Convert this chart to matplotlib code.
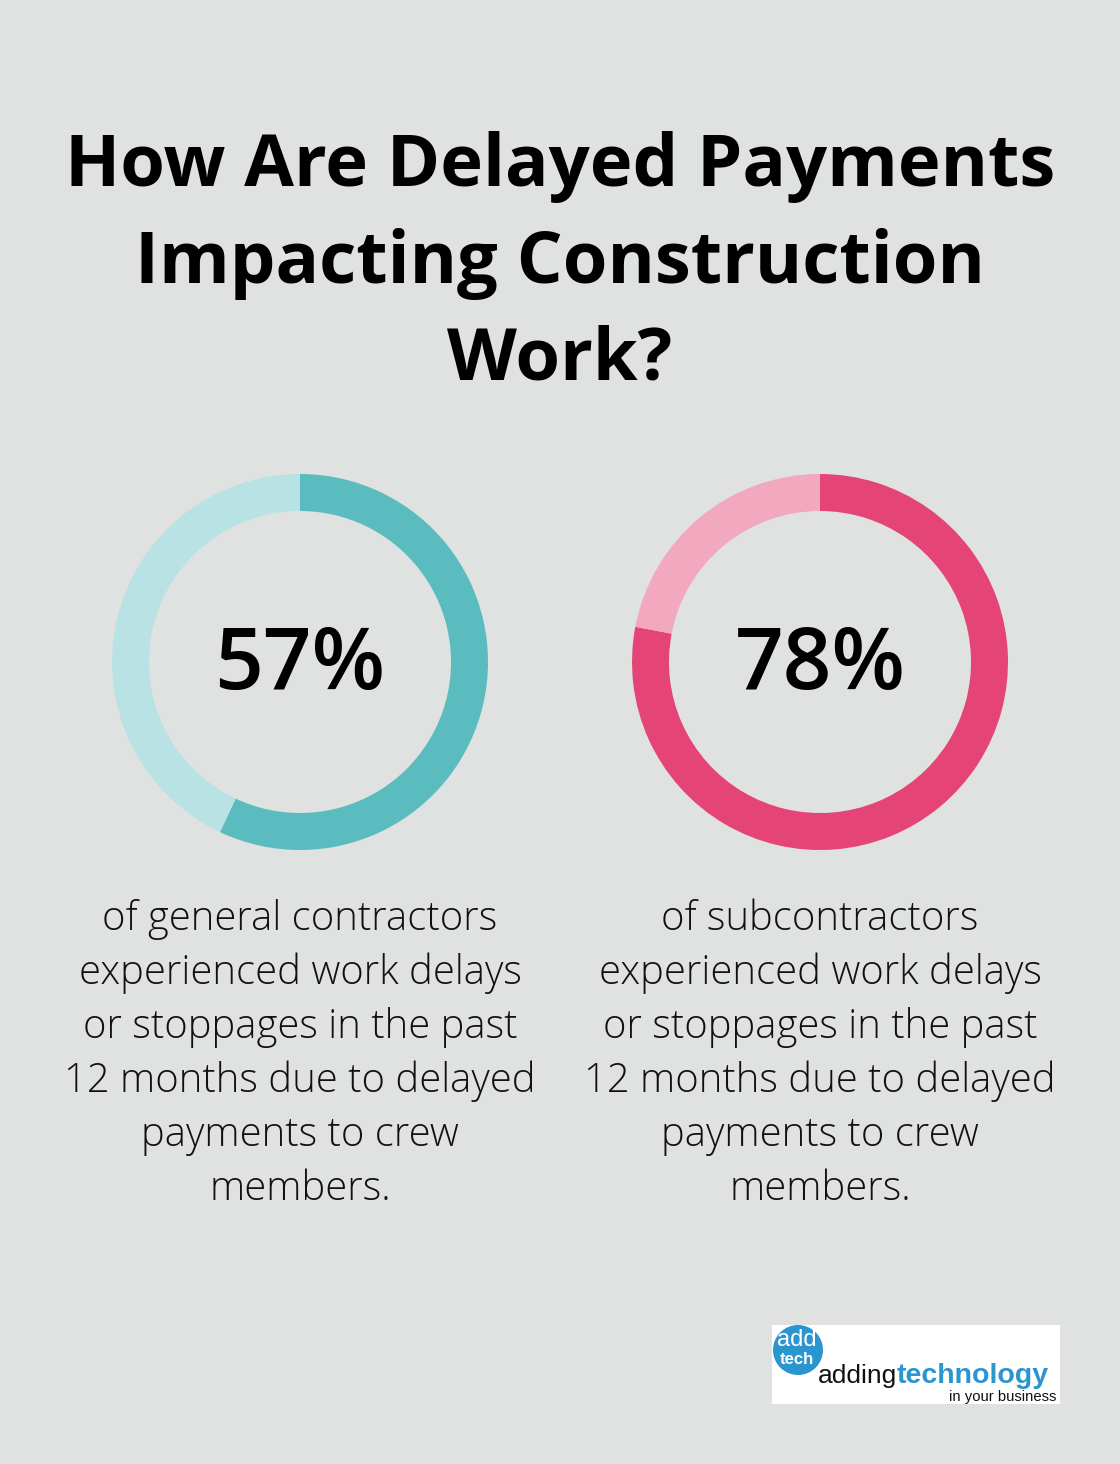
import matplotlib
matplotlib.use("Agg")
import matplotlib.pyplot as plt
from matplotlib.patches import Circle, Rectangle

W, H = 1120, 1464
title_lines = ["How Are Delayed Payments", "Impacting Construction", "Work?"]
percents = [57, 78]
labels = ["57%", "78%"]
desc_lines = [
    ["of general contractors", "experienced work delays", "or stoppages in the past",
     "12 months due to delayed", "payments to crew", "members."],
    ["of subcontractors", "experienced work delays", "or stoppages in the past",
     "12 months due to delayed", "payments to crew", "members."],
]
dark_colors = ["#5BBCBF", "#E54576"]
light_colors = ["#B8E2E4", "#F2A8BE"]
bg = "#E0E2E1"

fig = plt.figure(figsize=(W / 100, H / 100), dpi=100, facecolor=bg)

def fx(x):
    return x / W

def fy(y):
    return 1 - y / H

# title
for i, line in enumerate(title_lines):
    fig.text(fx(560), fy(186 + i * 97), line, ha="center", va="baseline",
             fontsize=52, fontweight="bold", family=["Open Sans", "DejaVu Sans"], color="#000000")

centers = [300, 820]
cy = 662
R = 188
ring = 37
for k, cx in enumerate(centers):
    ax = fig.add_axes([fx(cx - R), fy(cy + R), 2 * R / W, 2 * R / H])
    ax.set_facecolor("none")
    ax.pie([percents[k], 100 - percents[k]], colors=[dark_colors[k], light_colors[k]],
           startangle=90, counterclock=False, radius=1,
           wedgeprops=dict(width=ring / R, linewidth=0))
    ax.set_xlim(-1, 1)
    ax.set_ylim(-1, 1)
    ax.set_aspect("equal")
    ax.axis("off")
    fig.text(fx(cx), fy(cy + 27), labels[k], ha="center", va="baseline",
             fontsize=61.5, fontweight="semibold", family=["Open Sans", "DejaVu Sans"], color="#000000")
    for j, line in enumerate(desc_lines[k]):
        fig.text(fx(cx), fy(930 + j * 54), line, ha="center", va="baseline",
                 fontsize=28.8, fontweight="light", family=["Open Sans", "DejaVu Sans"], color="#111111")

# logo
lax = fig.add_axes([fx(772), fy(1404), 288 / W, 79 / H])
lax.set_xlim(0, 288)
lax.set_ylim(79, 0)
lax.axis("off")
lax.add_patch(Rectangle((0, 0), 288, 79, facecolor="white", edgecolor="none"))
lax.add_patch(Circle((26, 25), 25, facecolor="#2B95CF", edgecolor="none"))
lax.text(25, 21, "add", ha="center", va="baseline", fontsize=17, color="white",
         family=["Liberation Sans", "DejaVu Sans"])
lax.text(25, 39, "tech", ha="center", va="baseline", fontsize=12, fontweight="bold", color="white",
         family=["Liberation Sans", "DejaVu Sans"])
lax.text(46, 58, "adding", ha="left", va="baseline", fontsize=19, color="#111111",
         family=["Liberation Sans", "DejaVu Sans"])
lax.text(125, 58, "technology", ha="left", va="baseline", fontsize=20.5, fontweight="bold",
         color="#2B95CF", family=["Liberation Sans", "DejaVu Sans"])
lax.text(284, 76, "in your business", ha="right", va="baseline", fontsize=10.7, color="#111111",
         family=["Liberation Sans", "DejaVu Sans"])

fig.savefig("out.png", dpi=100, facecolor=bg)
